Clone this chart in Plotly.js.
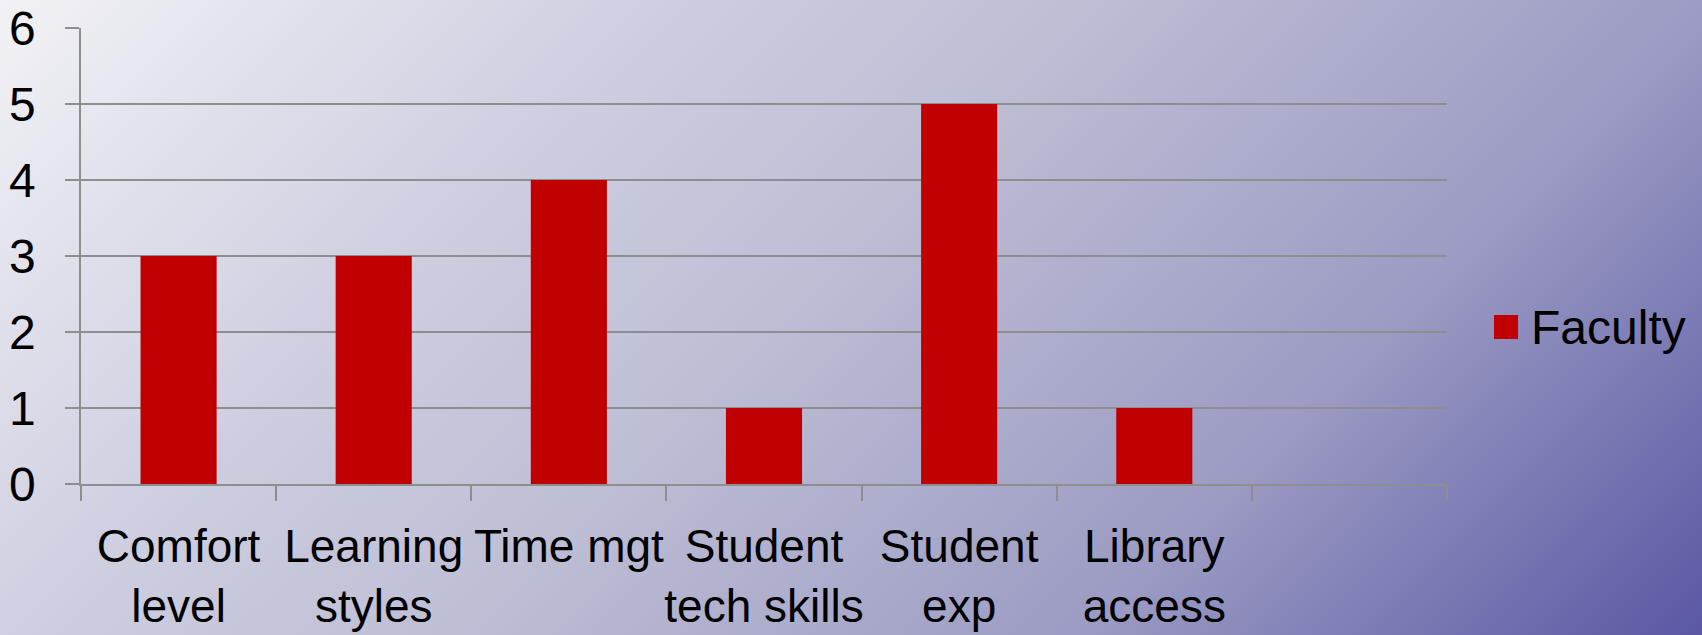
<!DOCTYPE html>
<html>
<head>
<meta charset="utf-8">
<script src="https://cdn.plot.ly/plotly-3.0.1.min.js"></script>
<style>
    html, body {
        margin: 0;
        padding: 0;
        width: 1702px;
        height: 635px;
        overflow: hidden;
    }
    body {
        /* tlo slajdu: jasnoszary lewy gorny rog -> niebiesko-fioletowy prawy dolny */
        background: linear-gradient(135deg, #f2f2f6 0%, #d0d0e2 27%, #bcbcd4 48%, #9c9cc4 73%, #5a58a4 100%);
    }
    #chart {
        width: 1702px;
        height: 635px;
    }
</style>
</head>
<body>
<div id="chart"></div>
<script>
// Dane z wykresu
const categories = ['Comfort<br>level', 'Learning<br>styles', 'Time mgt', 'Student<br>tech skills', 'Student<br>exp', 'Library<br>access', ' '];
const facultyValues = [3, 3, 4, 1, 5, 1, null];
const seriesName = 'Faculty';
const yTicks = [0, 1, 2, 3, 4, 5, 6];

const barColor = '#c00000';
const gridColor = '#8e8e8e';
const font = 'Liberation Sans, Arial, sans-serif';

const facultyTrace = {
    type: 'bar',
    x: categories,
    y: facultyValues,
    name: seriesName,
    marker: { color: barColor },
    showlegend: false,
    hoverinfo: 'x+y'
};

const layout = {
    width: 1702,
    height: 635,
    margin: { l: 81, r: 255, t: 28, b: 151 },
    paper_bgcolor: 'rgba(0,0,0,0)',
    plot_bgcolor: 'rgba(0,0,0,0)',
    font: { family: font, size: 48, color: '#000' },
    bargap: 0.61,
    xaxis: {
        type: 'category',
        range: [-0.5, categories.length - 0.5],
        tickson: 'boundaries',
        tickangle: 0,
        ticks: 'outside',
        ticklen: 15,
        tickwidth: 1.5,
        tickcolor: gridColor,
        showline: true,
        linecolor: gridColor,
        linewidth: 1.5,
        showgrid: false,
        zeroline: false,
        ticklabelstandoff: 21,
        tickfont: { family: font, size: 46, color: '#000' }
    },
    yaxis: {
        range: [0, 6],
        tickvals: yTicks,
        ticktext: yTicks.map(String),
        ticks: 'outside',
        ticklen: 14,
        tickwidth: 1.5,
        tickcolor: gridColor,
        showline: true,
        linecolor: gridColor,
        linewidth: 1.5,
        showgrid: true,
        gridcolor: gridColor,
        gridwidth: 1.5,
        zeroline: false,
        ticklabelstandoff: 20,
        tickfont: { family: font, size: 48, color: '#000' }
    },
    // legenda: kwadrat + tekst (ikona legendy Plotly jest za mala)
    shapes: [{
        type: 'rect',
        xref: 'paper', yref: 'paper',
        x0: 1.0344, x1: 1.0520,
        y0: 0.318, y1: 0.3706,
        fillcolor: barColor,
        line: { width: 0 }
    }],
    annotations: [{
        xref: 'paper', yref: 'paper',
        x: 1.060, y: 0.344,
        xanchor: 'left', yanchor: 'middle',
        text: seriesName,
        showarrow: false,
        font: { family: font, size: 48, color: '#000' }
    }]
};

const config = { displayModeBar: false, responsive: false };

Plotly.newPlot('chart', [facultyTrace], layout, config);
</script>
</body>
</html>
